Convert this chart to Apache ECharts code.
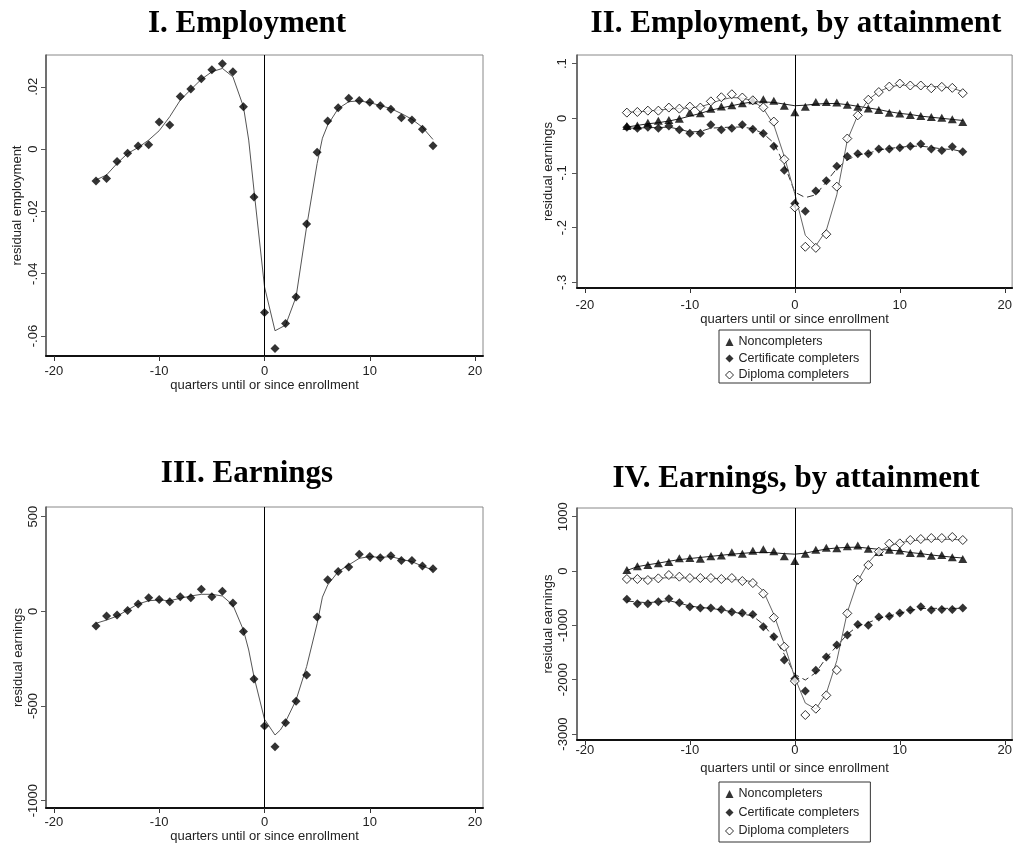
<!DOCTYPE html>
<html>
<head>
<meta charset="utf-8">
<title>Employment and earnings around enrollment</title>
<script src="https://cdn.jsdelivr.net/npm/echarts@6/dist/echarts.min.js"></script>
<style>
  html, body { margin: 0; padding: 0; background: #fff; }
  #chart { width: 1015px; height: 844px; }
</style>
</head>
<body>
<div id="chart"></div>
<script>
// Quarters relative to enrollment
const quarters = [-16,-15,-14,-13,-12,-11,-10,-9,-8,-7,-6,-5,-4,-3,-2,-1,0,1,2,3,4,5,6,7,8,9,10,11,12,13,14,15,16];

// I. Employment: quarterly residuals and smoothed curve
const empDots = [-0.0102,-0.0094,-0.0040,-0.0013,0.0010,0.0014,0.0087,0.0077,0.0169,0.0193,0.0226,0.0255,0.0274,0.0248,0.0136,-0.0154,-0.0524,-0.0640,-0.0560,-0.0475,-0.0240,-0.0010,0.0090,0.0133,0.0163,0.0156,0.0150,0.0139,0.0128,0.0101,0.0093,0.0064,0.0011];
const empFitX = [-16,-15,-14,-13,-12,-11,-10,-9,-8,-7,-6,-5,-4,-3,-2,-1.5,-1,0,1,2,3,4,5,5.5,6,7,8,9,10,11,12,13,14,15,16];
const empFit = [-0.0099,-0.0083,-0.0046,-0.0014,0.0005,0.0029,0.0059,0.0104,0.0157,0.0191,0.0224,0.0248,0.0259,0.0232,0.0136,0.0029,-0.0132,-0.0442,-0.0583,-0.0565,-0.0474,-0.0249,-0.0046,0.0035,0.0077,0.0130,0.0152,0.0155,0.0149,0.0140,0.0130,0.0114,0.0096,0.0070,0.0031];

// II. Employment by attainment
const empNonDots = [-0.014,-0.013,-0.008,-0.0043,-0.003,-0.0006,0.0104,0.0092,0.0177,0.0214,0.0239,0.0275,0.033,0.035,0.032,0.023,0.011,0.021,0.030,0.030,0.029,0.025,0.021,0.018,0.015,0.010,0.009,0.006,0.004,0.0024,0.0012,-0.0018,-0.0067];
const empNonFit = [-0.016,-0.013,-0.010,-0.008,-0.005,-0.001,0.004,0.009,0.015,0.019,0.023,0.027,0.030,0.030,0.029,0.026,0.023,0.024,0.026,0.027,0.027,0.025,0.022,0.019,0.016,0.012,0.009,0.007,0.004,0.002,0.000,-0.002,-0.004];
const empCertDots = [-0.0165,-0.018,-0.0165,-0.018,-0.014,-0.021,-0.0275,-0.0275,-0.012,-0.021,-0.018,-0.012,-0.020,-0.028,-0.051,-0.095,-0.156,-0.170,-0.133,-0.114,-0.0875,-0.070,-0.065,-0.065,-0.056,-0.056,-0.054,-0.051,-0.047,-0.056,-0.059,-0.052,-0.061];
const empCertFit = [-0.018,-0.018,-0.017,-0.017,-0.016,-0.020,-0.025,-0.024,-0.018,-0.017,-0.016,-0.016,-0.019,-0.028,-0.045,-0.085,-0.135,-0.145,-0.140,-0.116,-0.092,-0.076,-0.067,-0.064,-0.058,-0.055,-0.053,-0.051,-0.051,-0.053,-0.056,-0.057,-0.061];
const empDipDots = [0.0104,0.0116,0.014,0.014,0.0196,0.0177,0.0214,0.0196,0.031,0.0385,0.044,0.038,0.033,0.020,-0.006,-0.075,-0.163,-0.235,-0.237,-0.212,-0.125,-0.037,0.0055,0.034,0.048,0.058,0.0636,0.060,0.060,0.055,0.0575,0.0557,0.046];
const empDipFit = [0.011,0.012,0.013,0.015,0.017,0.018,0.019,0.021,0.027,0.034,0.038,0.037,0.032,0.018,-0.012,-0.070,-0.138,-0.214,-0.233,-0.205,-0.140,-0.040,0.006,0.034,0.049,0.057,0.061,0.060,0.059,0.058,0.058,0.055,0.049];

// III. Earnings
const earnDots = [-77,-25,-19,4,39,72,62,51,77,72,116,77,106,44,-106,-357,-606,-715,-588,-475,-336,-30,167,210,234,301,289,283,294,269,269,239,225];
const earnFitX = [-16,-15,-14,-13,-12,-11,-10,-9,-8,-7,-6,-5,-4,-3,-2,-1.5,-1,0,1,1.5,2,3,4,5,5.5,6,7,8,9,10,11,12,13,14,15,16];
const earnFit = [-63,-46,-25,7,39,56,60,56,69,81,90,90,81,33,-99,-204,-345,-570,-653,-627,-583,-468,-292,-65,75,139,210,245,280,289,285,289,275,262,239,218];

// IV. Earnings by attainment
const earnNonDots = [18,86,110,141,166,233,239,227,270,288,344,319,374,399,362,270,184,319,393,429,417,454,472,411,350,393,380,331,325,282,294,252,221];
const earnNonFit = [10,80,115,145,180,210,230,250,270,290,310,325,340,345,335,320,310,330,370,405,425,435,440,420,400,385,370,340,320,295,275,255,240];
const earnCertDots = [-521,-601,-601,-564,-509,-583,-656,-681,-681,-706,-755,-773,-798,-1025,-1209,-1638,-1982,-2209,-1828,-1583,-1362,-1178,-982,-1000,-847,-834,-773,-718,-656,-718,-706,-706,-681];
const earnCertFit = [-552,-570,-583,-565,-545,-590,-644,-670,-687,-715,-748,-790,-828,-982,-1227,-1534,-1902,-2006,-1871,-1595,-1380,-1166,-1012,-951,-871,-828,-779,-724,-690,-687,-687,-687,-687];
const earnDipDots = [-147,-147,-166,-135,-74,-104,-129,-129,-129,-147,-129,-184,-221,-417,-859,-1393,-2025,-2650,-2534,-2288,-1822,-779,-160,110,356,503,509,571,589,607,607,626,571];
const earnDipFit = [-135,-135,-133,-130,-123,-125,-130,-133,-135,-140,-153,-170,-196,-368,-798,-1350,-1963,-2430,-2540,-2250,-1650,-760,-184,153,368,460,521,552,571,583,583,583,571];

// Axis ticks
const xTicks = [-20, -10, 0, 10, 20];
const empTicks = [-0.06, -0.04, -0.02, 0, 0.02];
const empAttTicks = [-0.3, -0.2, -0.1, 0, 0.1];
const earnTicks = [-1000, -500, 0, 500];
const earnAttTicks = [-3000, -2000, -1000, 0, 1000];

const panelTitles = ['I. Employment', 'II. Employment, by attainment', 'III. Earnings', 'IV. Earnings, by attainment'];
const groupNames = ['Noncompleters', 'Certificate completers', 'Diploma completers'];
const xName = 'quarters until or since enrollment';

const pairs = (xs, ys) => xs.map((x, i) => [x, ys[i]]);

// Stata-style labels: drop the leading zero
const stataFmt = v => {
  if (Math.abs(v) < 1e-12) return '0';
  const s = String(+v.toFixed(4));
  return s.replace(/^(-?)0\./, '$1.');
};

const SANS = '"Liberation Sans", Arial, sans-serif';
const SERIF = '"Liberation Serif", "Times New Roman", serif';

function makeX(idx, max, labelMargin, nameGap) {
  return {
    type: 'value', gridIndex: idx, min: -20.75, max: max,
    name: xName, nameLocation: 'middle', nameGap: nameGap,
    nameTextStyle: { fontFamily: SANS, fontSize: 13, color: '#222' },
    axisLine: { show: true, onZero: false, lineStyle: { color: '#111', width: 2 } },
    axisTick: { show: true, length: 5, customValues: xTicks, lineStyle: { color: '#333', width: 1 } },
    axisLabel: { customValues: xTicks, margin: labelMargin, fontFamily: SANS, fontSize: 13, color: '#222' },
    splitLine: { show: false }
  };
}

function makeY(idx, min, max, ticks, name, labelMargin, nameGap) {
  return {
    type: 'value', gridIndex: idx, min: min, max: max,
    name: name, nameLocation: 'middle', nameGap: nameGap, nameRotate: 90,
    nameTextStyle: { fontFamily: SANS, fontSize: 13, color: '#222' },
    axisLine: { show: true, onZero: false, lineStyle: { color: '#555', width: 1.5 } },
    axisTick: { show: true, length: 5, customValues: ticks, lineStyle: { color: '#555', width: 1 } },
    axisLabel: { customValues: ticks, rotate: 90, margin: labelMargin, fontFamily: SANS, fontSize: 13, color: '#222', formatter: stataFmt },
    splitLine: { show: false }
  };
}

const zeroLine = {
  silent: true, symbol: 'none', animation: false,
  label: { show: false },
  lineStyle: { color: '#000', width: 1, type: 'solid' },
  data: [{ xAxis: 0 }]
};

function fitLine(idx, data, color, dashed, withZero) {
  const s = {
    type: 'line', xAxisIndex: idx, yAxisIndex: idx, data: data,
    symbol: 'none', showSymbol: false, silent: true, z: 2,
    lineStyle: { color: color, width: 1, type: dashed ? [7, 4] : 'solid' }
  };
  if (withZero) s.markLine = zeroLine;
  return s;
}

const markStyles = [
  { symbol: 'triangle', symbolSize: [9, 8], itemStyle: { color: '#000' } },
  { symbol: 'diamond', symbolSize: [9, 9], itemStyle: { color: '#000' } },
  { symbol: 'diamond', symbolSize: [9, 9], itemStyle: { color: '#fff', borderColor: '#000', borderWidth: 1 } }
];

function dots(idx, name, data, style) {
  return Object.assign({
    type: 'scatter', name: name, xAxisIndex: idx, yAxisIndex: idx,
    data: data, z: 5, silent: true
  }, style);
}

function groupLegend(top, pad, lineH, gap) {
  return {
    left: 719, top: top, orient: 'vertical',
    padding: pad, itemGap: gap, itemWidth: 8, itemHeight: 8, itemTextGap: 6,
    borderColor: '#333', borderWidth: 1, backgroundColor: '#fff',
    selectedMode: false,
    textStyle: { fontFamily: SANS, fontSize: 12.5, color: '#222', lineHeight: lineH },
    data: groupNames.map((n, i) => ({
      name: n, icon: markStyles[i].symbol,
      itemStyle: Object.assign({}, markStyles[i].itemStyle)
    }))
  };
}

const option = {
  animation: false,
  backgroundColor: '#fff',
  title: [
    { text: panelTitles[0], left: 247, top: 8 },
    { text: panelTitles[1], left: 796, top: 8 },
    { text: panelTitles[2], left: 247, top: 458 },
    { text: panelTitles[3], left: 796, top: 463 }
  ].map(t => Object.assign(t, {
    textAlign: 'center', padding: 0,
    textStyle: { fontFamily: SERIF, fontWeight: 'bold', fontSize: 31, color: '#000' }
  })),
  legend: [groupLegend(330, [5, 11, 1, 6], 14, 2.5), groupLegend(782, [4, 11, 3, 6], 16, 2.5)],
  grid: [
    { left: 46, top: 55, width: 437, height: 301 },
    { left: 577, top: 55, width: 436, height: 233 },
    { left: 46, top: 507, width: 437, height: 301 },
    { left: 577, top: 508, width: 436, height: 232 }
  ].map(g => Object.assign(g, { show: true, borderColor: '#888', borderWidth: 1, containLabel: false })),
  xAxis: [
    makeX(0, 20.75, 9, 20),
    makeX(1, 20.7, 11, 19),
    makeX(2, 20.75, 8, 20),
    makeX(3, 20.7, 4, 22)
  ],
  yAxis: [
    makeY(0, -0.0664, 0.0302, empTicks, 'residual employment', 6.5, 22),
    makeY(1, -0.3104, 0.1158, empAttTicks, 'residual earnings', 8.5, 22),
    makeY(2, -1038.5, 551, earnTicks, 'residual earnings', 6.5, 21),
    makeY(3, -3110, 1160, earnAttTicks, 'residual earnings', 7.5, 22)
  ],
  series: [
    // I
    fitLine(0, pairs(empFitX, empFit), '#555', false, true),
    dots(0, 'Employment', pairs(quarters, empDots), markStyles[1]),
    // II
    fitLine(1, pairs(quarters, empNonFit), '#222', false, true),
    fitLine(1, pairs(quarters, empCertFit), '#333', true, false),
    fitLine(1, pairs(quarters, empDipFit), '#666', false, false),
    dots(1, groupNames[0], pairs(quarters, empNonDots), markStyles[0]),
    dots(1, groupNames[1], pairs(quarters, empCertDots), markStyles[1]),
    dots(1, groupNames[2], pairs(quarters, empDipDots), markStyles[2]),
    // III
    fitLine(2, pairs(earnFitX, earnFit), '#555', false, true),
    dots(2, 'Earnings', pairs(quarters, earnDots), markStyles[1]),
    // IV
    fitLine(3, pairs(quarters, earnNonFit), '#222', false, true),
    fitLine(3, pairs(quarters, earnCertFit), '#333', true, false),
    fitLine(3, pairs(quarters, earnDipFit), '#666', false, false),
    dots(3, groupNames[0], pairs(quarters, earnNonDots), markStyles[0]),
    dots(3, groupNames[1], pairs(quarters, earnCertDots), markStyles[1]),
    dots(3, groupNames[2], pairs(quarters, earnDipDots), markStyles[2])
  ]
};

const chart = echarts.init(document.getElementById('chart'), null, { renderer: 'canvas' });
chart.setOption(option);
</script>
</body>
</html>
